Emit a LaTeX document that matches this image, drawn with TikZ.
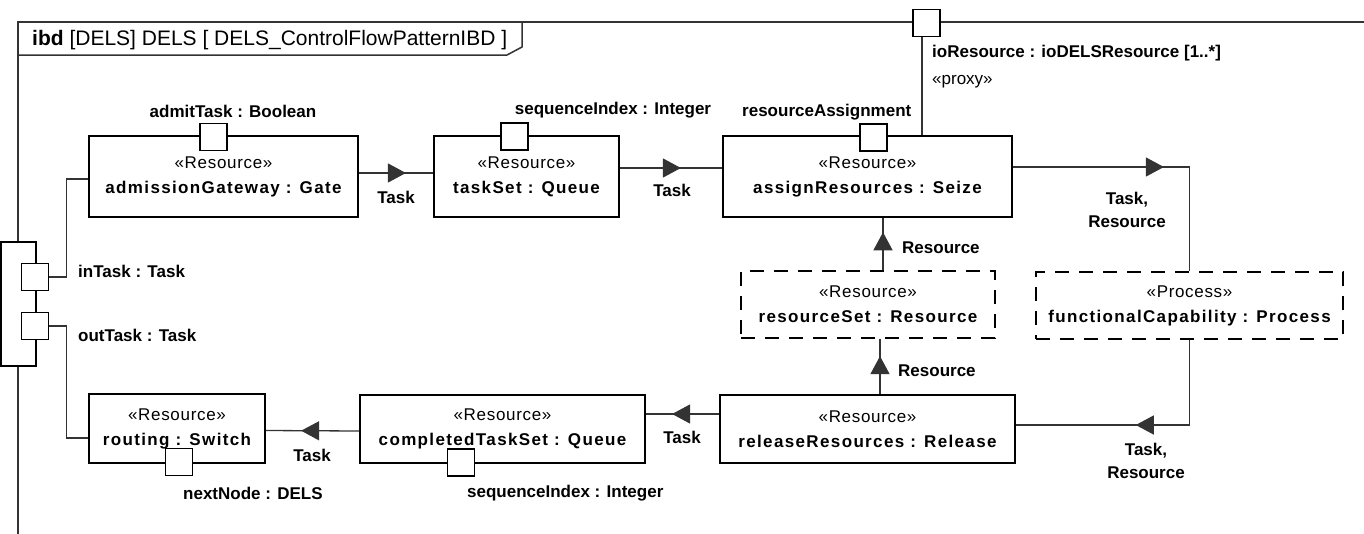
\documentclass[tikz,border=0pt]{standalone}
\usepackage{fontspec}
\setmainfont{Liberation Sans}
\newfontfamily\namefont[LetterSpace=8]{Liberation Sans}
\newfontfamily\stfont[LetterSpace=4]{Liberation Sans}
\usetikzlibrary{arrows.meta,decorations.markings,calc}
\begin{document}
\begin{tikzpicture}[x=1pt,y=-1pt,
 part/.style={draw=black, line width=1.8pt, fill=white, inner sep=0pt, align=center, font=\fontsize{17}{25}\selectfont},
 dpart/.style={part, line width=1.5pt, dash pattern=on 14pt off 10pt},
 port/.style={draw=black, line width=1.5pt, fill=white, minimum size=27pt, inner sep=0pt},
 conn/.style={draw=black!80, line width=1.3pt},
 flow/.style={conn, postaction={decorate}, decoration={markings, mark=at position #1 with {\arrow{Triangle[length=18pt,width=19pt]}}}},
 lbl/.style={font=\fontsize{17}{23}\selectfont\bfseries, inner sep=0pt, align=center},
 rlbl/.style={font=\fontsize{17}{23}\selectfont, inner sep=0pt},
]
\useasboundingbox (0,0) rectangle (1364,533);
\clip (0,0) rectangle (1364,533);
% frame
\draw[line width=1.5pt, draw=black!80] (18,22) rectangle (1420,600);
\draw[line width=1.5pt, draw=black!80] (18,55) -- (507,55) -- (522,47) -- (522,22);
\node[anchor=west, inner sep=0pt, font=\fontsize{21}{21}\selectfont] (hdr) at (32,40) {\textbf{ibd} [DELS] DELS [ DELS\_ControlFlowPatternIBD ]};

% parts
\node[part, minimum width=269pt, minimum height=81pt] (adm) at (223.5,176.5) {\stfont«Resource»\\\namefont\bfseries admissionGateway : Gate};
\node[part, minimum width=185pt, minimum height=81pt] (ts) at (526.5,176.5) {\stfont«Resource»\\\namefont\bfseries taskSet : Queue};
\node[part, minimum width=289pt, minimum height=81pt] (ar) at (867.5,176.5) {\stfont«Resource»\\\namefont\bfseries assignResources : Seize};
\node[dpart, minimum width=254pt, minimum height=67pt] (rs) at (868,304.5) {\stfont«Resource»\\\namefont\bfseries resourceSet : Resource};
\node[dpart, minimum width=307pt, minimum height=67pt] (fc) at (1189.5,305.5) {\stfont«Process»\\\namefont\bfseries functionalCapability : Process};
\node[part, minimum width=295pt, minimum height=68pt] (rr) at (867.5,429) {\stfont«Resource»\\\namefont\bfseries releaseResources : Release};
\node[part, minimum width=285pt, minimum height=68pt] (cts) at (502.5,429) {\stfont«Resource»\\\namefont\bfseries completedTaskSet : Queue};
\node[part, minimum width=176pt, minimum height=69pt] (rt) at (177,428.5) {\stfont«Resource»\\\namefont\bfseries routing : Switch};

% big boundary port
\node[draw=black, line width=1.8pt, fill=white, minimum width=35pt, minimum height=124pt, inner sep=0pt] (bigport) at (18.5,304) {};

% ports
\node[port] (pAdmit) at (213.5,137) {};
\node[port] (pSeq1) at (514.5,136.5) {};
\node[port] (pRA) at (873.5,137.5) {};
\node[port] (pIO) at (926.5,23) {};
\node[port] (pIn) at (35,277) {};
\node[port] (pOut) at (35,326) {};
\node[port] (pNext) at (179,462) {};
\node[port] (pSeq2) at (461,462.5) {};

% connectors
\draw[conn] (pIn.east) -- ++(17,0) |- ($(adm.west)+(0,2.5)$);
\draw[conn] (pOut.east) -- ++(17,0) |- ($(rt.west)+(0,9.5)$);
\draw[flow=47pt] ($(adm.east)+(0,-3.5)$) -- ($(ts.west)+(0,-3.5)$);
\draw[flow=61pt] ($(ts.east)+(0,-8.5)$) -- ($(ar.west)+(0,-8.5)$);
\draw[flow=151pt] ($(ar.east)+(0,-9.5)$) -| (fc.north);
\draw[flow=139pt] (fc.south) |- ($(rr.east)+(0,-4)$);
\draw[flow=47pt] ($(rr.west)+(0,-15)$) -- ($(cts.east)+(0,-15)$);
\draw[flow=58pt] ($(cts.west)+(0,2)$) -- ($(rt.east)+(0,2)$);
\draw[flow=38pt] ($(rr.north)+(12.5,0)$) -- ($(rs.south)+(12,0)$);
\draw[flow=38pt] ($(rs.north)+(15,0)$) -- ($(ar.south)+(15.5,0)$);
\draw[conn] ([xshift=-4.5pt]pIO.south) -- ([xshift=-4.5pt]pIO.south |- ar.north);

% labels
\node[lbl] (lAdmit) at (233,111) {admitTask : Boolean};
\node[lbl] (lSeq1) at (613,110) {sequenceIndex : Integer};
\node[lbl, anchor=west] (lRA) at (742,112) {resourceAssignment};
\node[lbl, anchor=west] (lIO) at (932,53) {ioResource : ioDELSResource [1..*]};
\node[rlbl, anchor=west] (lProxy) at (932,82) {«proxy»};
\node[lbl] (lT1) at (396,197) {Task};
\node[lbl] (lT2) at (672,190) {Task};
\node[lbl] (lTR1) at (1127,209.5) {Task,\\Resource};
\node[lbl, anchor=west] (lR1) at (902,248) {Resource};
\node[lbl, anchor=west] (lR2) at (898,371) {Resource};
\node[lbl] (lTR2) at (1146,461) {Task,\\Resource};
\node[lbl] (lT3) at (682,437) {Task};
\node[lbl] (lT4) at (312,455) {Task};
\node[lbl, anchor=west] (lSeq2) at (467,493) {sequenceIndex : Integer};
\node[lbl, anchor=west] (lNext) at (183,493) {nextNode : DELS};
\node[lbl, anchor=west] (lIn) at (78,271) {inTask : Task};
\node[lbl, anchor=west] (lOut) at (78,335) {outTask : Task};
\end{tikzpicture}
\end{document}
